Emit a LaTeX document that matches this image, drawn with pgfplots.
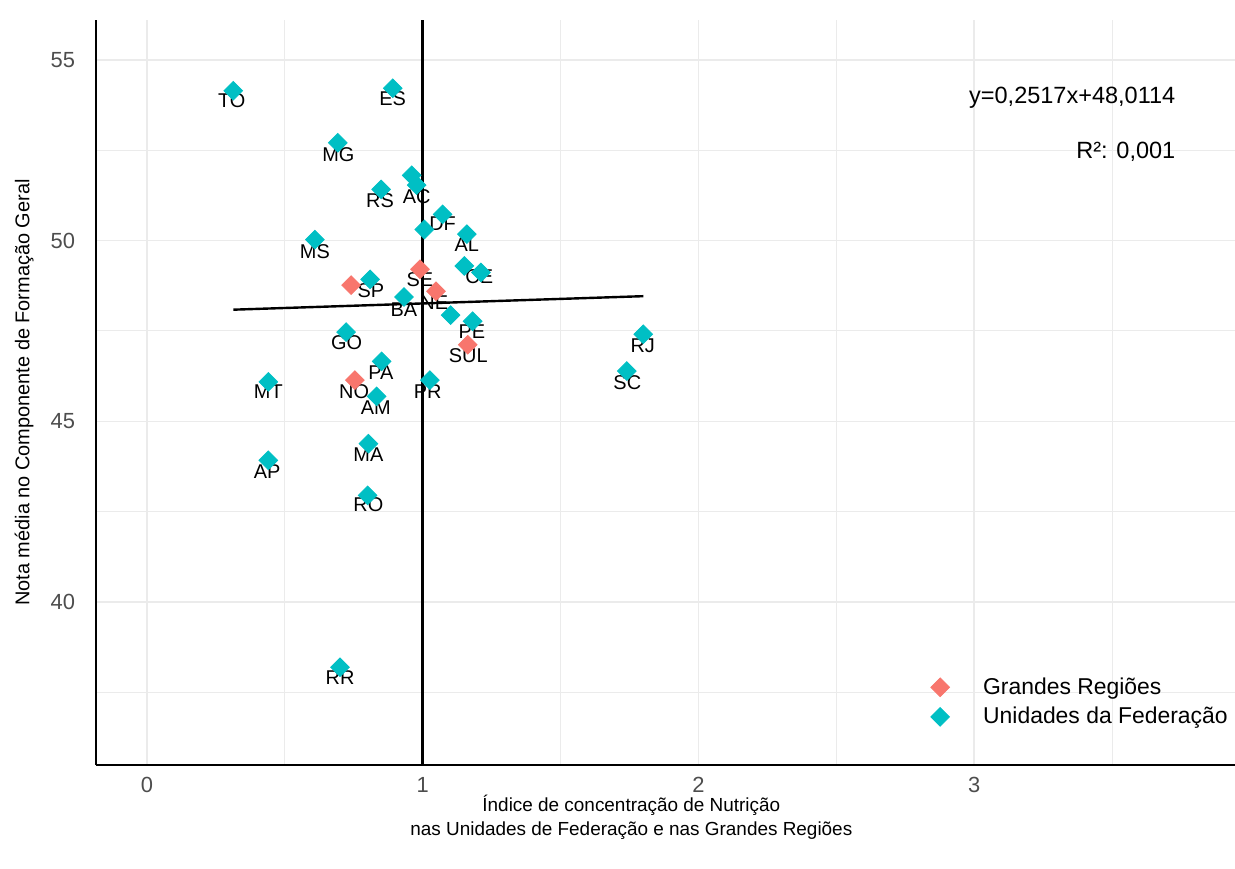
\documentclass[border=0pt]{standalone}
\usepackage{fontspec}
\setmainfont{Liberation Sans}
\usepackage{pgfplots}
\pgfplotsset{compat=1.18}
\definecolor{ggred}{HTML}{F8766D}
\definecolor{ggcyan}{HTML}{00BFC4}
\definecolor{gridc}{HTML}{EBEBEB}
\definecolor{tickc}{HTML}{4D4D4D}
\begin{document}
\begin{tikzpicture}
\path[use as bounding box] (-48bp,-52bp) rectangle (569.5bp,382.5bp);
\begin{axis}[
  at={(0,0)}, anchor=south west,
  scale only axis, width=569.5bp, height=372.5bp,
  xmin=-0.185, xmax=3.946, ymin=35.485, ymax=56.11,
  axis x line*=bottom, axis y line*=left,
  axis line style={-, black, line width=0.7bp},
  xtick={0,1,2,3}, ytick={40,45,50,55},
  minor xtick={0.5,1.5,2.5,3.5}, minor ytick={37.5,42.5,47.5,52.5},
  grid=both,
  major grid style={gridc, line width=0.8bp},
  minor grid style={gridc, line width=0.5bp},
  major tick length=0pt, minor tick length=0pt,
  tick style={draw=none},
  ticklabel style={font=\fontsize{11}{13}\selectfont, text=tickc},
  /pgf/number format/assume math mode=true,
  xticklabel style={yshift=-2.5bp},
  yticklabel style={xshift=-7bp},
  xlabel={Índice de concentração de Nutrição\\nas Unidades de Federação e nas Grandes Regiões},
  xlabel style={align=center, font=\fontsize{9.5}{12}\selectfont, at={(axis description cs:0.47,0)}, anchor=north, yshift=-15bp, inner sep=0pt},
  ylabel={Nota média no Componente de Formação Geral},
  ylabel style={font=\fontsize{10}{12}\selectfont, at={(axis description cs:-0.063,0.5)}, anchor=center, rotate=0},
  clip=false,
  legend cell align=left,
  legend image code/.code={\path[draw=none, fill=none] (-5bp,-0.1bp) rectangle (21.5bp,0.1bp); \draw[#1] plot coordinates {(0bp,0bp)};},
  legend style={draw=none, fill=none, at={(axis description cs:0.732,0.118)}, anchor=north west,
    font=\fontsize{11.5}{14}\selectfont, row sep=5bp, inner sep=0pt, nodes={inner sep=0pt}},
]
% Grandes Regiões
\addplot[only marks, color=ggred, mark=square*, mark size=3.3bp, mark options={rotate=45, fill=ggred, draw=ggred}]
 coordinates {(0.990,49.21) (0.740,48.77) (1.048,48.60) (1.163,47.12) (0.754,46.14)};
\addlegendentry{Grandes Regiões}
% Unidades da Federação
\addplot[only marks, color=ggcyan, mark=square*, mark size=3.3bp, mark options={rotate=45, fill=ggcyan, draw=ggcyan}]
 coordinates {
 (0.313,54.15) (0.891,54.22) (0.692,52.71) (0.960,51.81) (0.978,51.54)
 (0.849,51.42) (1.072,50.73) (1.006,50.31) (1.160,50.18) (0.609,50.03)
 (1.151,49.30) (1.211,49.12) (0.809,48.93) (0.932,48.44) (1.101,47.94)
 (1.181,47.77) (0.722,47.47) (0.851,46.66) (1.026,46.14) (0.833,45.69)
 (0.440,46.09) (0.803,44.38) (0.440,43.92) (0.800,42.95) (0.700,38.19)
 (1.800,47.41) (1.740,46.39)};
\addlegendentry{Unidades da Federação}
% reference lines
\addplot[black, line width=1.5bp, forget plot] coordinates {(1,35.485) (1,56.11)};
\addplot[black, line width=1.2bp, forget plot] coordinates {(0.313,48.090) (1.800,48.464)};
% labels
\begingroup
\tikzset{every node/.style={font=\fontsize{8.85}{10}\selectfont, inner sep=0pt}}
\node at (axis cs:0.307,53.87) {TO};
\node at (axis cs:0.891,53.92) {ES};
\node at (axis cs:0.694,52.37) {MG};
\node at (axis cs:0.978,51.23) {AC};
\node at (axis cs:0.845,51.12) {RS};
\node at (axis cs:1.072,50.46) {DF};
\node at (axis cs:1.160,49.88) {AL};
\node at (axis cs:0.609,49.71) {MS};
\node at (axis cs:0.990,48.91) {SE};
\node at (axis cs:0.812,48.63) {SP};
\node at (axis cs:1.205,49.00) {CE};
\node at (axis cs:0.932,48.10) {BA};
\node at (axis cs:1.042,48.28) {NE};
\node at (axis cs:1.178,47.49) {PE};
\node at (axis cs:0.724,47.17) {GO};
\node at (axis cs:1.165,46.83) {SUL};
\node at (axis cs:0.848,46.35) {PA};
\node at (axis cs:0.751,45.83) {NO};
\node at (axis cs:1.018,45.83) {PR};
\node at (axis cs:0.830,45.38) {AM};
\node at (axis cs:0.440,45.81) {MT};
\node at (axis cs:0.803,44.08) {MA};
\node at (axis cs:0.436,43.61) {AP};
\node at (axis cs:0.803,42.69) {RO};
\node at (axis cs:0.700,37.91) {RR};
\node at (axis cs:1.798,47.10) {RJ};
\node at (axis cs:1.742,46.06) {SC};
\endgroup
\node[anchor=east, font=\fontsize{11.8}{14}\selectfont] at (axis cs:3.755,53.95) {y=0,2517x+48,0114};
\node[anchor=east, font=\fontsize{11.8}{14}\selectfont] at (axis cs:3.755,52.45) {R²: 0,001};
\end{axis}
\end{tikzpicture}
\end{document}
